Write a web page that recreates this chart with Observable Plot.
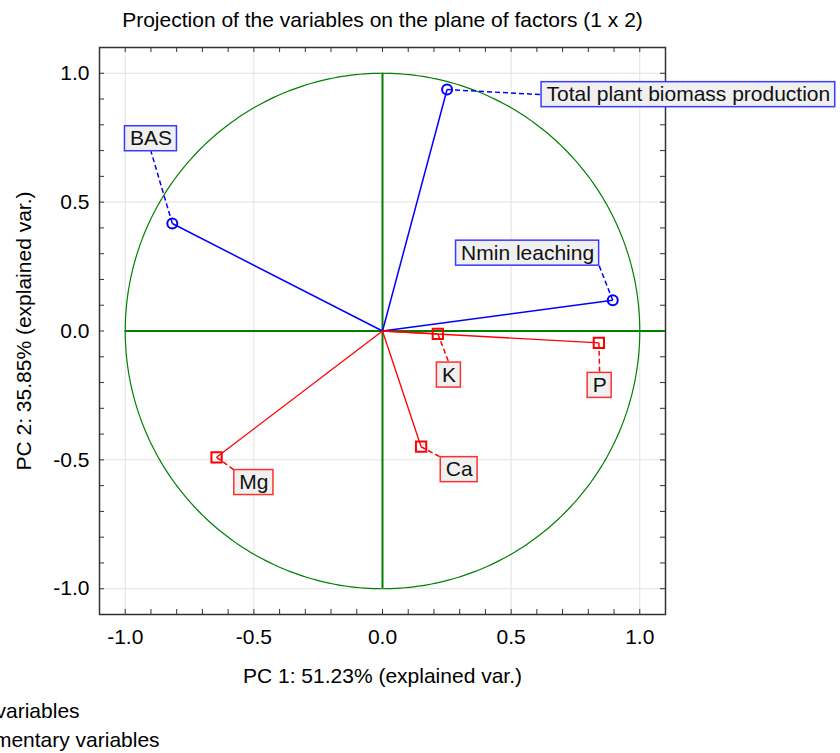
<!DOCTYPE html>
<html><head><meta charset="utf-8">
<script src="https://cdn.jsdelivr.net/npm/d3@7"></script>
<script src="https://cdn.jsdelivr.net/npm/@observablehq/plot@0.6"></script>
<style>html,body{margin:0;padding:0;background:#fff;overflow:hidden;}</style>
</head><body><div id="chart"></div>
<script>
// ---- data ----
const variables = ["Total plant biomass production", "BAS", "Nmin leaching", "K", "P", "Ca", "Mg"];
const kinds     = ["active", "active", "active", "supplementary", "supplementary", "supplementary", "supplementary"];
const pc1       = [0.251, -0.817, 0.895, 0.215, 0.841, 0.150, -0.645];
const pc2       = [0.937, 0.417, 0.119, -0.011, -0.046, -0.449, -0.490];
const labelX    = [1.189, -0.900, 0.564, 0.258, 0.844, 0.298, -0.500];
const labelY    = [0.917, 0.746, 0.302, -0.171, -0.211, -0.538, -0.588];
const majorTicks = [-1.0, -0.5, 0.0, 0.5, 1.0];
const minorTicks = [-1.0, -0.9, -0.8, -0.7, -0.6, -0.5, -0.4, -0.3, -0.2, -0.1, 0.0,
                    0.1, 0.2, 0.3, 0.4, 0.5, 0.6, 0.7, 0.8, 0.9, 1.0];
const titleText = "Projection of the variables on the plane of factors (1 x 2)";
const xLabel = "PC 1: 51.23% (explained var.)";
const yLabel = "PC 2: 35.85% (explained var.)";
const legendLabels = ["Active variables", "Supplementary variables"];

// ---- layout ----
const W = 840, H = 753;
const mL = 99, mR = 175, mT = 47, mB = 139;
const xDomain = [-1.1, 1.1], yDomain = [-1.1, 1.1];
const kx = (W - mL - mR) / (xDomain[1] - xDomain[0]);
const ky = (H - mT - mB) / (yDomain[1] - yDomain[0]);
const FONT = "'Liberation Sans', Arial, Helvetica, sans-serif";
const blue = "#0000ff", red = "#ff0000", green = "#008000";

const ctx = document.createElement("canvas").getContext("2d");
ctx.font = "21px 'Liberation Sans', Arial, sans-serif";

const rows = variables.map((name, i) => {
  const hw = (ctx.measureText(name).width / 2 + 5) / kx;
  const hh = 12.5 / ky;
  const lx = labelX[i], ly = labelY[i];
  const box = {x1: lx - hw, x2: lx + hw, y1: ly - hh, y2: ly + hh};
  const px = pc1[i], py = pc2[i];
  // connector attaches to a corner or edge midpoint of the box, on the side facing the point
  const cx = px < box.x1 ? box.x1 : px > box.x2 ? box.x2 : lx;
  const cy = py < box.y1 ? box.y1 : py > box.y2 ? box.y2 : ly;
  return {name, kind: kinds[i], x: px, y: py, lx, ly, ...box, cx, cy};
});
const active = rows.filter(d => d.kind === "active");
const supp = rows.filter(d => d.kind !== "active");

const angles = d3.range(0, 361, 1);
const circle = angles.map(a => ({x: Math.cos(a * Math.PI / 180), y: Math.sin(a * Math.PI / 180)}));

const tlx = 5 / kx, tly = 5 / ky;
const tickColor = "#333";

const chart = Plot.plot({
  width: W, height: H,
  marginLeft: mL, marginRight: mR, marginTop: mT, marginBottom: mB,
  x: {domain: xDomain, axis: null},
  y: {domain: yDomain, axis: null},
  style: {fontFamily: FONT, fontSize: "21px", background: "#fff", color: "#000"},
  marks: [
    Plot.gridX(majorTicks.filter(d => d !== 0), {stroke: "#e2e2e2", strokeOpacity: 1, strokeWidth: 1}),
    Plot.gridY(majorTicks.filter(d => d !== 0), {stroke: "#e2e2e2", strokeOpacity: 1, strokeWidth: 1}),
    // frame and inward ticks
    Plot.frame({stroke: tickColor, strokeWidth: 1.5}),
    Plot.ruleX(minorTicks, {y1: yDomain[0], y2: yDomain[0] + tly, stroke: tickColor}),
    Plot.ruleX(minorTicks, {y1: yDomain[1] - tly, y2: yDomain[1], stroke: tickColor}),
    Plot.ruleY(minorTicks, {x1: xDomain[0], x2: xDomain[0] + tlx, stroke: tickColor}),
    Plot.ruleY(minorTicks, {x1: xDomain[1] - tlx, x2: xDomain[1], stroke: tickColor}),
    // correlation circle and axes
    Plot.line(circle, {x: "x", y: "y", stroke: green, strokeWidth: 1.2}),
    Plot.ruleX([0], {y1: -1, y2: 1, stroke: green, strokeWidth: 2}),
    Plot.ruleY([0], {x1: -1, x2: xDomain[1], stroke: green, strokeWidth: 2}),
    // vectors
    Plot.link(active, {x1: () => 0, y1: () => 0, x2: "x", y2: "y", stroke: blue, strokeWidth: 1.5}),
    Plot.link(supp, {x1: () => 0, y1: () => 0, x2: "x", y2: "y", stroke: red, strokeWidth: 1.3}),
    // dashed connectors
    Plot.link(active, {x1: "x", y1: "y", x2: "cx", y2: "cy", stroke: blue, strokeWidth: 1.5, strokeDasharray: "5,3"}),
    Plot.link(supp, {x1: "x", y1: "y", x2: "cx", y2: "cy", stroke: red, strokeWidth: 1.5, strokeDasharray: "5,3"}),
    // points
    Plot.dot(active, {x: "x", y: "y", symbol: "circle", r: 5, stroke: blue, strokeWidth: 2, fill: "none"}),
    Plot.dot(supp, {x: "x", y: "y", symbol: "square", r: 5.8, stroke: red, strokeWidth: 2, fill: "none"}),
    // label boxes
    Plot.rect(active, {x1: "x1", x2: "x2", y1: "y1", y2: "y2", fill: "#f0f0f0", stroke: "#3a3aff", strokeWidth: 1.5}),
    Plot.rect(supp, {x1: "x1", x2: "x2", y1: "y1", y2: "y2", fill: "#f0f0f0", stroke: "#ff3030", strokeWidth: 1.5}),
    Plot.text(rows, {x: "lx", y: "ly", text: "name", fontSize: 21, fill: "#111", textAnchor: "middle", lineAnchor: "middle"}),
    // tick labels
    Plot.axisX(majorTicks, {anchor: "bottom", tickSize: 0, tickPadding: 15, tickFormat: d => d.toFixed(1), label: null, fontSize: 21}),
    Plot.axisY(majorTicks, {anchor: "left", tickSize: 0, tickPadding: 10, tickFormat: d => d.toFixed(1), label: null, fontSize: 21}),
    // titles
    Plot.text([titleText], {text: d => d, frameAnchor: "top", dy: -27, fontSize: 21, textAnchor: "middle", lineAnchor: "middle", fill: "#000"}),
    Plot.text([xLabel], {text: d => d, frameAnchor: "bottom", dy: 62, fontSize: 21, textAnchor: "middle", lineAnchor: "middle", fill: "#000"}),
    Plot.text([yLabel], {text: d => d, frameAnchor: "left", dx: -75, rotate: -90, fontSize: 21, textAnchor: "middle", lineAnchor: "middle", fill: "#000"}),
    // legend (cut off at the left edge, as in the reference)
    Plot.dot([legendLabels[0]], {frameAnchor: "bottom-left", dx: -185, dy: 97, symbol: "circle", r: 5, stroke: blue, strokeWidth: 2}),
    Plot.dot([legendLabels[1]], {frameAnchor: "bottom-left", dx: -185, dy: 126, symbol: "square", r: 5.8, stroke: red, strokeWidth: 2}),
    Plot.text([legendLabels[0]], {text: d => d, frameAnchor: "bottom-left", dx: -167, dy: 97, fontSize: 21, textAnchor: "start", lineAnchor: "middle", fill: "#000"}),
    Plot.text([legendLabels[1]], {text: d => d, frameAnchor: "bottom-left", dx: -171, dy: 126, fontSize: 21, textAnchor: "start", lineAnchor: "middle", fill: "#000"})
  ]
});
document.getElementById("chart").appendChild(chart);
</script>
</body></html>
